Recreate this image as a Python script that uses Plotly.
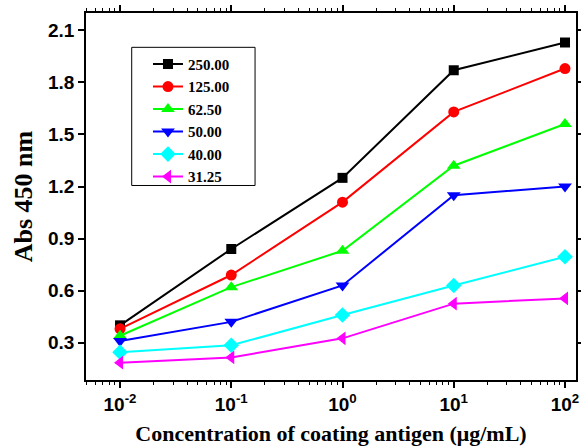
import plotly.graph_objects as go

concentrations = [0.01, 0.1, 1, 10, 100]
series_names = ["250.00", "125.00", "62.50", "50.00", "40.00", "31.25"]
abs_250 = [0.40, 0.84, 1.25, 1.87, 2.03]
abs_125 = [0.38, 0.69, 1.11, 1.63, 1.88]
abs_62_5 = [0.34, 0.62, 0.83, 1.32, 1.56]
abs_50 = [0.31, 0.42, 0.63, 1.15, 1.20]
abs_40 = [0.245, 0.285, 0.46, 0.63, 0.795]
abs_31_25 = [0.185, 0.215, 0.325, 0.525, 0.555]
x_tick_labels = ["10<sup>-2</sup>", "10<sup>-1</sup>", "10<sup>0</sup>", "10<sup>1</sup>", "10<sup>2</sup>"]

series_values = [abs_250, abs_125, abs_62_5, abs_50, abs_40, abs_31_25]
colors = ["#000000", "#FF0000", "#00FF00", "#0000FF", "#00FFFF", "#FF00FF"]
symbols = ["square", "circle", "triangle-up", "triangle-down", "diamond", "triangle-left"]
sizes = [10, 11, 12, 12, 12, 12]

fig = go.Figure()
for name, vals, c, s, sz in zip(series_names, series_values, colors, symbols, sizes):
    fig.add_trace(go.Scatter(
        x=concentrations, y=vals, name=name, mode="lines+markers",
        line=dict(color=c, width=2),
        marker=dict(symbol=s, size=sz, color=c, line=dict(width=0)),
    ))

axis_common = dict(
    showline=True, linecolor="black", linewidth=1.5, mirror="allticks",
    ticks="outside", ticklen=6, tickwidth=1.5, tickcolor="black",
    showgrid=False, zeroline=False, automargin=False,
    tickfont=dict(family="Liberation Sans", size=19, color="black", weight="bold"),
)

fig.update_xaxes(
    type="log", range=[-2.306, 2.099],
    tickvals=concentrations, ticktext=x_tick_labels,
    minor=dict(dtick="D1", ticks="outside", ticklen=3, tickwidth=1, tickcolor="black", showgrid=False),
    title=dict(text="<b>Concentration of coating antigen (μg/mL)</b>",
               font=dict(family="Liberation Serif", size=22, color="black"), standoff=12),
    **axis_common,
)
fig.update_yaxes(
    range=[0.085, 2.2], tick0=0.3, dtick=0.3, tickformat=".1f",
    title=dict(text="<b>Abs 450 nm</b>",
               font=dict(family="Liberation Serif", size=26, color="black"), standoff=8),
    **axis_common,
)

fig.update_layout(
    width=581, height=447,
    margin=dict(l=86, r=5, t=13, b=67),
    plot_bgcolor="white", paper_bgcolor="white",
    showlegend=True,
    legend=dict(
        x=0.1265, y=0.905, xanchor="left", yanchor="top",
        bgcolor="rgba(0,0,0,0)", borderwidth=0,
        font=dict(family="Liberation Serif", size=15, color="black", weight="bold"),
    ),
    shapes=[dict(type="rect", xref="paper", yref="paper",
                 x0=0.0933, x1=0.345, y0=0.53, y1=0.9065,
                 line=dict(color="black", width=1), fillcolor="rgba(0,0,0,0)", layer="above")],
)

fig.write_html("out.html", config={"displayModeBar": False},
               post_script="document.body.style.margin='0';")
